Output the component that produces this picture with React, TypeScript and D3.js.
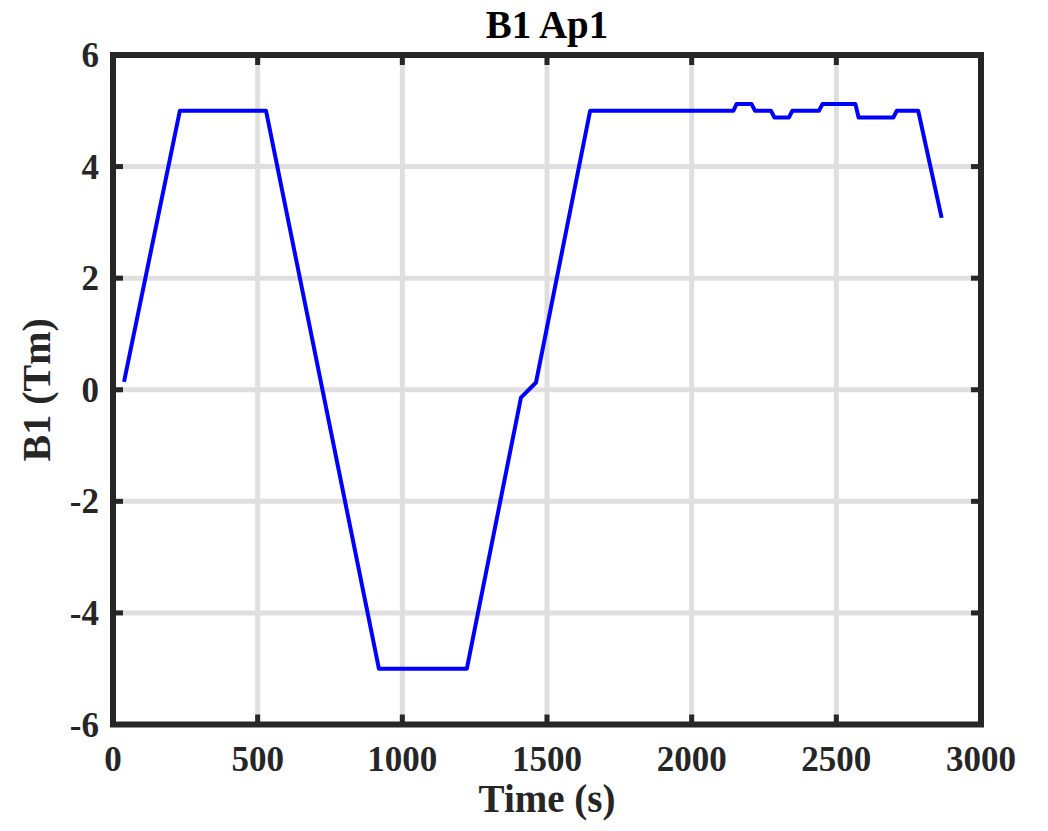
import React, { useRef, useEffect } from "react";
import * as d3 from "d3";

// Field readings (time in s, B1 in Tm)
const times = [
  38, 231, 529, 919, 1223, 1410, 1462, 1649, 2144, 2155, 2207, 2219, 2274,
  2286, 2336, 2348, 2440, 2452, 2566, 2577, 2697, 2709, 2783, 2864,
];
const fieldValues = [
  0.14, 5, 5, -5, -5, -0.14, 0.13, 5, 5, 5.12, 5.12, 5, 5, 4.88, 4.88, 5, 5,
  5.12, 5.12, 4.88, 4.88, 5, 5, 3.08,
];
const xTicks = [0, 500, 1000, 1500, 2000, 2500, 3000];
const yTicks = [-6, -4, -2, 0, 2, 4, 6];

const titleText = "B1 Ap1";
const xLabel = "Time (s)";
const yLabel = "B1 (Tm)";

const W = 1048;
const H = 831;
const margin = { left: 113, right: 67, top: 55, bottom: 106.5 };
const ink = "#262626";
const font = "'Liberation Serif', 'Times New Roman', serif";

function App() {
  const ref = useRef<SVGSVGElement>(null);

  useEffect(() => {
    const svg = d3.select(ref.current);
    svg.selectAll("*").remove();

    const x = d3
      .scaleLinear()
      .domain([0, 3000])
      .range([margin.left, W - margin.right]);
    const y = d3
      .scaleLinear()
      .domain([-6, 6])
      .range([H - margin.bottom, margin.top]);

    const [x0, x1] = x.range();
    const [y0, y1] = y.range();

    // white plot area
    svg
      .append("rect")
      .attr("x", x0)
      .attr("y", y1)
      .attr("width", x1 - x0)
      .attr("height", y0 - y1)
      .attr("fill", "white");

    // grid
    const grid = svg.append("g").attr("stroke", "#dfdfdf").attr("stroke-width", 5);
    grid
      .selectAll("line.gx")
      .data(xTicks)
      .enter()
      .append("line")
      .attr("x1", (d) => x(d))
      .attr("x2", (d) => x(d))
      .attr("y1", y1)
      .attr("y2", y0);
    grid
      .selectAll("line.gy")
      .data(yTicks)
      .enter()
      .append("line")
      .attr("x1", x0)
      .attr("x2", x1)
      .attr("y1", (d) => y(d))
      .attr("y2", (d) => y(d));

    // data line
    const pts: [number, number][] = times.map((t, i) => [t, fieldValues[i]]);
    const line = d3
      .line<[number, number]>()
      .x((d) => x(d[0]))
      .y((d) => y(d[1]));
    svg
      .append("path")
      .datum(pts)
      .attr("d", line)
      .attr("fill", "none")
      .attr("stroke", "#0000ff")
      .attr("stroke-width", 4)
      .attr("stroke-linejoin", "round");

    // inward ticks on all four sides
    const tickLen = 10;
    const tk = svg.append("g").attr("stroke", ink).attr("stroke-width", 5);
    xTicks.forEach((t) => {
      tk.append("line").attr("x1", x(t)).attr("x2", x(t)).attr("y1", y0).attr("y2", y0 - tickLen);
      tk.append("line").attr("x1", x(t)).attr("x2", x(t)).attr("y1", y1).attr("y2", y1 + tickLen);
    });
    yTicks.forEach((t) => {
      tk.append("line").attr("x1", x0).attr("x2", x0 + tickLen).attr("y1", y(t)).attr("y2", y(t));
      tk.append("line").attr("x1", x1).attr("x2", x1 - tickLen).attr("y1", y(t)).attr("y2", y(t));
    });

    // box
    svg
      .append("rect")
      .attr("x", x0)
      .attr("y", y1)
      .attr("width", x1 - x0)
      .attr("height", y0 - y1)
      .attr("fill", "none")
      .attr("stroke", ink)
      .attr("stroke-width", 6);

    // tick labels
    const labels = svg
      .append("g")
      .attr("font-family", font)
      .attr("font-weight", "bold")
      .attr("font-size", 35)
      .attr("fill", ink);
    labels
      .selectAll("text.xl")
      .data(xTicks)
      .enter()
      .append("text")
      .attr("x", (d) => x(d))
      .attr("y", 771)
      .attr("text-anchor", "middle")
      .text((d) => String(d));
    labels
      .selectAll("text.yl")
      .data(yTicks)
      .enter()
      .append("text")
      .attr("x", 99)
      .attr("y", (d) => y(d) + 12)
      .attr("text-anchor", "end")
      .text((d) => String(d));

    // axis labels + title
    svg
      .append("text")
      .attr("x", (x0 + x1) / 2)
      .attr("y", 812)
      .attr("text-anchor", "middle")
      .attr("font-family", font)
      .attr("font-weight", "bold")
      .attr("font-size", 39)
      .attr("fill", ink)
      .text(xLabel);
    svg
      .append("text")
      .attr("transform", `translate(50, ${(y0 + y1) / 2}) rotate(-90)`)
      .attr("text-anchor", "middle")
      .attr("font-family", font)
      .attr("font-weight", "bold")
      .attr("font-size", 40)
      .attr("fill", ink)
      .text(yLabel);
    svg
      .append("text")
      .attr("x", (x0 + x1) / 2)
      .attr("y", 38)
      .attr("text-anchor", "middle")
      .attr("font-family", font)
      .attr("font-weight", "bold")
      .attr("font-size", 39)
      .attr("fill", "#000")
      .text(titleText);
  }, []);

  return (
    <svg
      ref={ref}
      width={W}
      height={H}
      style={{ position: "absolute", left: 0, top: 0, background: "white" }}
    />
  );
}

export default App;
